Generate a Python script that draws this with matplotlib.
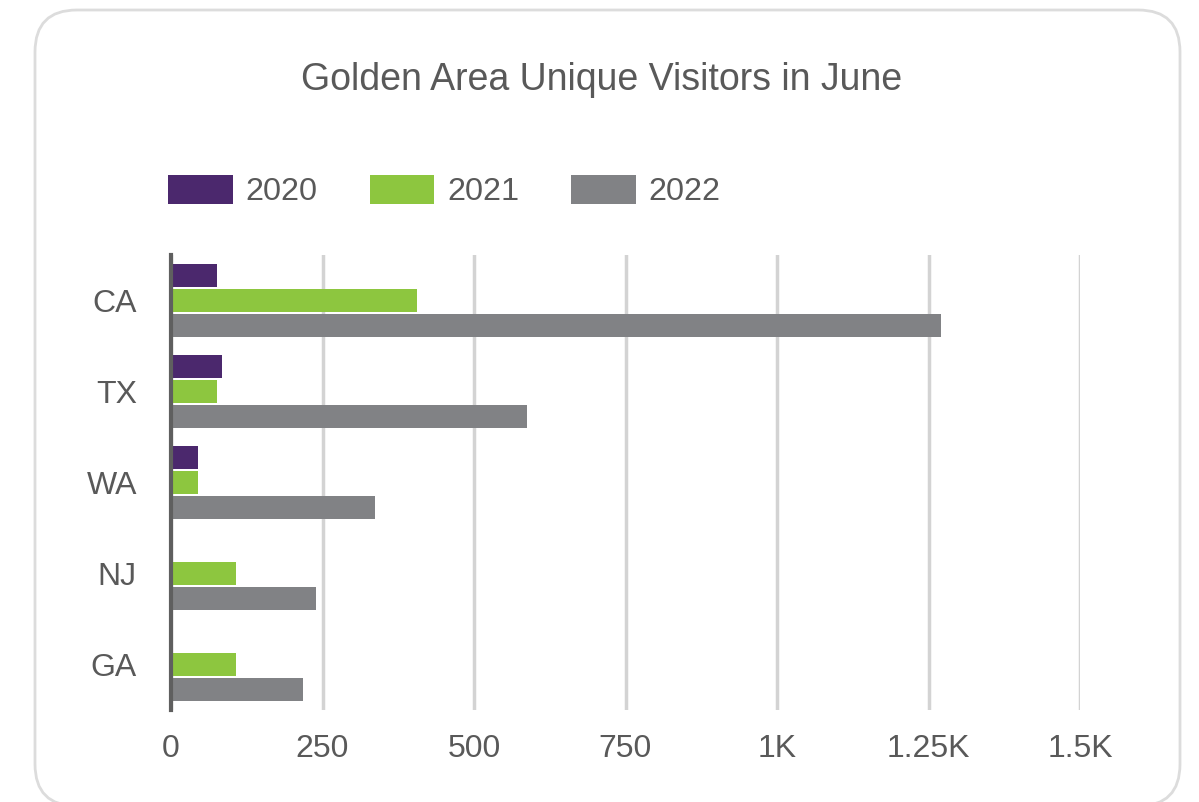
import numpy as np
import matplotlib.pyplot as plt
from matplotlib.patches import FancyBboxPatch
from matplotlib.ticker import FuncFormatter

plt.rcParams['font.family'] = ['Liberation Sans', 'DejaVu Sans']

# Data
states = ['CA', 'TX', 'WA', 'NJ', 'GA']
years = ['2020', '2021', '2022']
v2020 = [76, 84, 45, 0, 0]
v2021 = [406, 76, 45, 107, 107]
v2022 = [1270, 587, 337, 239, 218]
colors = ['#4B286D', '#8DC63F', '#818285']
xticks = [0, 250, 500, 750, 1000, 1250, 1500]

text_col = '#595959'
W, H = 1199, 802

fig = plt.figure(figsize=(W / 100, H / 100), dpi=100)

# rounded card border
card = FancyBboxPatch((35 / W, -4 / H), 1145 / W, 796 / H,
                      boxstyle='round,pad=0,rounding_size=0.035',
                      transform=fig.transFigure, facecolor='none',
                      edgecolor='#DCDCDC', linewidth=2, mutation_aspect=W / H,
                      zorder=-1)
fig.patches.append(card)

ax = fig.add_axes([171 / W, 1 - 710 / H, (1080 - 171) / W, (710 - 255) / H])
ax.set_facecolor('none')

y = np.arange(len(states))
off = 0.275
h = 0.255
for i, vals in enumerate([v2020, v2021, v2022]):
    ax.barh(y + (i - 1) * off, vals, height=h, color=colors[i], label=years[i], zorder=3)

ax.set_xlim(0, 1500)
ax.set_ylim(4.5, -0.5)
ax.set_xticks(xticks)
ax.xaxis.set_major_formatter(FuncFormatter(
    lambda v, p: '0' if v == 0 else (f'{v/1000:g}K' if v >= 1000 else f'{v:g}')))
ax.set_yticks(y)
ax.set_yticklabels(states)
ax.tick_params(axis='both', length=0, labelsize=23, colors=text_col)
ax.tick_params(axis='x', pad=17)
ax.tick_params(axis='y', pad=24.5)
ax.grid(axis='x', color='#D3D3D3', linewidth=2.5, zorder=0)
for s in ['top', 'right', 'bottom']:
    ax.spines[s].set_visible(False)
ax.spines['left'].set_color('#5F5F5F')
ax.spines['left'].set_linewidth(3)
ax.spines['left'].set_zorder(4)

fig.text(602 / W, 1 - 80 / H, 'Golden Area Unique Visitors in June',
         ha='center', va='center', fontsize=27, color=text_col)

leg = ax.legend(loc='center left', bbox_to_anchor=(139 / W, 1 - 191 / H),
                bbox_transform=fig.transFigure, ncol=3, frameon=False,
                fontsize=23.3, handlelength=2.0, handleheight=1.0,
                handletextpad=0.4, columnspacing=1.6)
for t in leg.get_texts():
    t.set_color(text_col)

fig.savefig('out.png', dpi=100, facecolor='white')
